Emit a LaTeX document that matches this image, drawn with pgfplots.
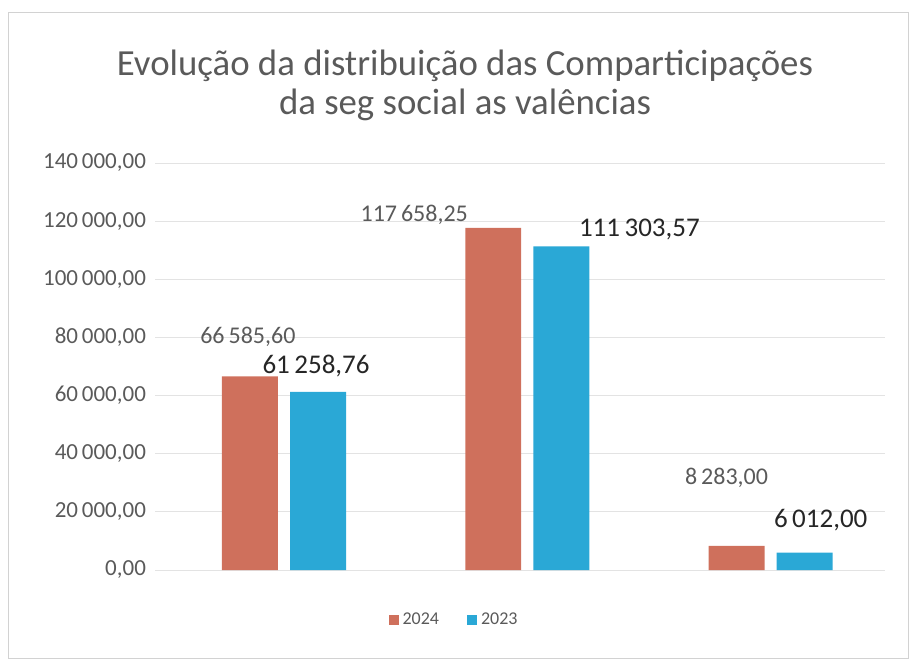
\documentclass[border=0pt]{standalone}
\usepackage{fontspec}
\setmainfont{Carlito}
\usepackage{pgfplots}
\pgfplotsset{compat=1.18}
\usepackage{pgfplotstable}
\definecolor{c24}{RGB}{207,112,92}
\definecolor{c23}{RGB}{42,168,214}
\definecolor{txt}{RGB}{90,90,90}
\pgfplotstableread{
x y dx dy
0 66585.60 -1 20
1 117658.25 -39.5 6.5
2 8283.00 -5 34
}\dataA
\pgfplotstableread{
x y dx dy
0 61258.76 -1 13
1 111303.57 39 8.5
2 6012.00 8 16
}\dataB
\begin{document}
\begin{tikzpicture}
\path[use as bounding box] (-77.5pt,-46.5pt) rectangle (379.5pt,285pt);
\draw[gray!35] (-73.5pt,-44pt) rectangle (376.5pt,279pt);
\node[align=center, text=txt, font=\fontsize{18.4}{19.5}\selectfont] at (155pt,242.5pt) {Evolução da distribuição das Comparticipações\\da seg social as valências};
\begin{axis}[
  at={(0pt,0pt)}, anchor=south west,
  width=365pt, height=203.5pt, scale only axis,
  ybar, ymin=0, ymax=140000, xmin=-0.53, xmax=2.47,
  bar width=0.23,
  axis line style={draw=none},
  ymajorgrids, grid style={gray!22},
  xtick=\empty, ytick={0,20000,...,140000},
  major tick length=0pt,
  scaled y ticks=false,
  /pgf/number format/fixed, /pgf/number format/fixed zerofill,
  /pgf/number format/precision=2, /pgf/number format/use comma,
  /pgf/number format/1000 sep={\,}, /pgf/number format/assume math mode=true,
  yticklabel style={text=txt, font=\fontsize{11.5}{13}\selectfont, xshift=-1pt},
  legend columns=2,
  legend style={draw=none, at={(0.411,-0.123)}, anchor=center, font=\fontsize{9}{10}\selectfont, text=txt, /tikz/every even column/.append style={column sep=12pt}},
  legend image code/.code={\fill[#1] (0pt,-2.5pt) rectangle (5pt,2.5pt);},
]
\addplot[fill=c24, draw=none, bar shift=-0.14, nodes near coords,
  visualization depends on={\thisrow{dx} \as \dx},
  visualization depends on={\thisrow{dy} \as \dy},
  every node near coord/.append style={anchor=center, xshift=\dx pt, yshift=\dy pt, text=txt, font=\fontsize{12}{13}\selectfont}]
  table[x=x, y=y] {\dataA};
\addlegendentry{2024}
\addplot[fill=c23, draw=none, bar shift=0.14, nodes near coords,
  visualization depends on={\thisrow{dx} \as \dx},
  visualization depends on={\thisrow{dy} \as \dy},
  every node near coord/.append style={anchor=center, xshift=\dx pt, yshift=\dy pt, text=black!85, font=\fontsize{13.5}{15}\selectfont}]
  table[x=x, y=y] {\dataB};
\addlegendentry{2023}
\end{axis}
\end{tikzpicture}
\end{document}
